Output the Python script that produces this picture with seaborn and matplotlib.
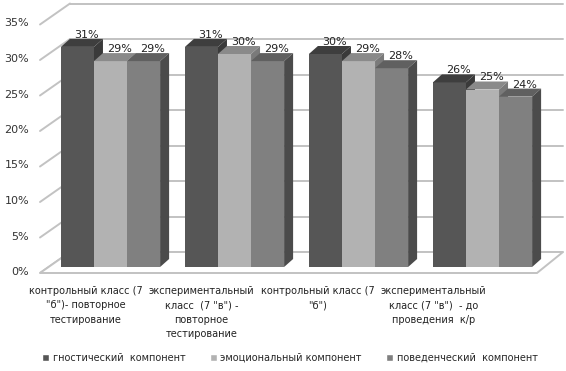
import pandas as pd
import matplotlib.pyplot as plt
import seaborn as sns
from matplotlib.patches import Polygon

classes = ['контрольный класс (7\n"б")- повторное\nтестирование',
           'экспериментальный\nкласс  (7 "в") -\nповторное\nтестирование',
           'контрольный класс (7\n"б")',
           'экспериментальный\nкласс (7 "в")  - до\nпроведения  к/р']
components = ['гностический  компонент', 'эмоциональный компонент', 'поведенческий  компонент']
gnostic = [0.31, 0.31, 0.30, 0.26]
emotional = [0.29, 0.30, 0.29, 0.25]
behavioral = [0.29, 0.29, 0.28, 0.24]
yticks = [0, 0.05, 0.10, 0.15, 0.20, 0.25, 0.30, 0.35]

df = pd.DataFrame({
    'class': classes * 3,
    'component': [components[0]] * 4 + [components[1]] * 4 + [components[2]] * 4,
    'value': gnostic + emotional + behavioral,
})

front = ['#565656', '#b2b2b2', '#808080']
top = ['#3e3e3e', '#8a8a8a', '#606060']
side = ['#3a3a3a', '#7a7a7a', '#4b4b4b']

sns.set_style('white')
plt.rcParams['font.family'] = ['DejaVu Sans']

fig = plt.figure(figsize=(5.66, 3.71), dpi=100)
ax = fig.add_axes([48.5 / 566, 104 / 371, 496 / 566, 248.5 / 371])
ax.patch.set_alpha(0)

sns.barplot(data=df, x='class', y='value', hue='component', hue_order=components,
            palette=front, saturation=1, width=0.8, ax=ax, legend=True)

ax.set_xlim(-0.5, 3.5)
ax.set_ylim(0, 0.35)
for s in ax.spines.values():
    s.set_visible(False)
ax.set_xticks([])
ax.set_yticks([])
ax.set_xlabel('')
ax.set_ylabel('')

# pixel -> data helpers
px = 4 / 496
py = 0.35 / 248.5
grid_c = '#c2c2c2'

# back wall, left wall and floor
back_up = 15
for v in yticks:
    yb = v + back_up * py
    ax.plot([-0.5 + 21.5 * px, -0.5 + 514.5 * px], [yb, yb], color=grid_c, lw=1.4,
            clip_on=False, zorder=0)
    ax.plot([-0.5 - 8.5 * px, -0.5 + 21.5 * px], [v - 6 * py, yb], color=grid_c, lw=1.4,
            clip_on=False, zorder=0)
floor = Polygon([(-0.5 - 8.5 * px, -6 * py), (-0.5 + 488.5 * px, -6 * py),
                 (-0.5 + 514.5 * px, back_up * py), (-0.5 + 21.5 * px, back_up * py)],
                closed=True, facecolor='white', edgecolor=grid_c, lw=1.4, clip_on=False, zorder=1)
ax.add_patch(floor)

for v in yticks:
    ax.text(-0.5 - 19.5 * px, v - 5 * py, f'{v:.0%}', ha='right', va='center',
            fontsize=8, color='#333333')

# 3D look for bars
dx, dy = 9 * px, 8 * py
for k, cont in enumerate(ax.containers):
    for bar in cont:
        x0, w, h = bar.get_x(), bar.get_width(), bar.get_height()
        bar.set_zorder(3 + k)
        bar.set_edgecolor('none')
        ax.add_patch(Polygon([(x0, h), (x0 + w, h), (x0 + w + dx, h + dy), (x0 + dx, h + dy)],
                             closed=True, facecolor=top[k], edgecolor='none', zorder=3 + k))
        ax.add_patch(Polygon([(x0 + w, 0), (x0 + w + dx, dy), (x0 + w + dx, h + dy), (x0 + w, h)],
                             closed=True, facecolor=side[k], edgecolor='none', zorder=3 + k))
        ax.text(x0 + w / 2 + 9 * px, h + dy - 1 * py, f'{h:.0%}', ha='center', va='bottom',
                fontsize=8, color='#222222', zorder=10)

# category labels
for i, lab in enumerate(classes):
    ax.text(i * 0.935 - 0.2, -19 * py, lab, ha='center', va='top', fontsize=7,
            color='#222222', linespacing=1.55)

sns.move_legend(ax, 'center', bbox_to_anchor=(290 / 566, 1 - 358 / 371),
                bbox_transform=fig.transFigure, ncol=3, frameon=False, title=None,
                fontsize=7, handlelength=0.7, handleheight=0.7, handletextpad=0.4,
                columnspacing=2.5)

fig.savefig('out.png', dpi=100)
plt.close()
